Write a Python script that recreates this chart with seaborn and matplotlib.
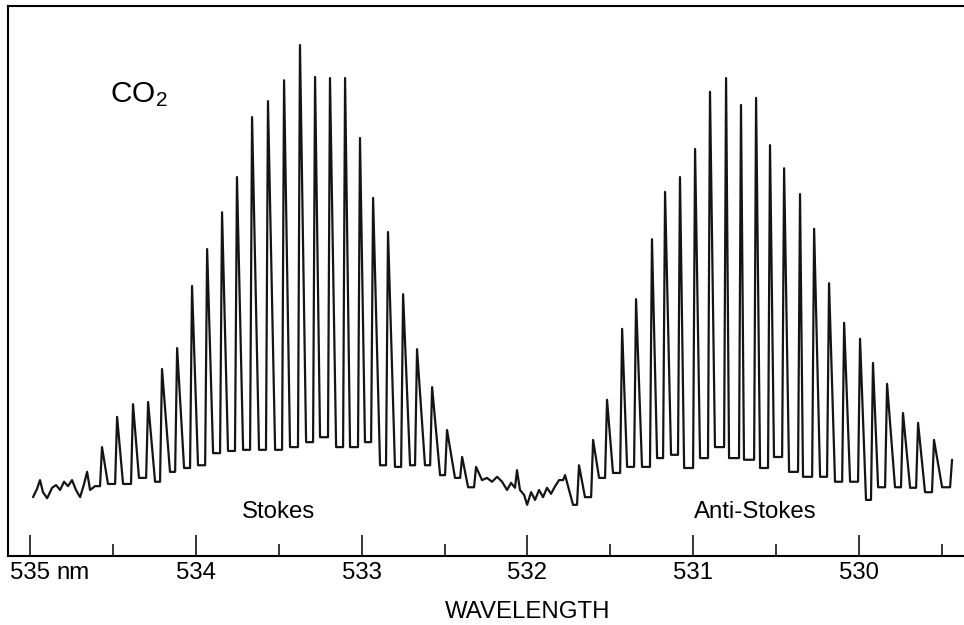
import numpy as np
import pandas as pd
import matplotlib
matplotlib.use('Agg')
import matplotlib.pyplot as plt
import seaborn as sns

# --- data (wavelength in nm, intensity in arb. units) ---
left_base_nm = [534.982, 534.958, 534.940, 534.922, 534.897, 534.867, 534.843, 534.819,
                534.795, 534.771, 534.747, 534.723, 534.698, 534.674, 534.656, 534.638, 534.608]
left_base_int = [10.7, 12.2, 13.8, 11.6, 10.5, 12.4, 12.9, 12.0,
                 13.5, 12.7, 13.8, 12.0, 10.7, 13.1, 15.3, 12.0, 12.7]

stokes_peak_nm = [534.566, 534.475, 534.379, 534.288, 534.204, 534.113, 534.023, 533.932,
                  533.842, 533.752, 533.661, 533.565, 533.468, 533.372, 533.281, 533.191,
                  533.100, 533.010, 532.931, 532.841, 532.750, 532.666, 532.575, 532.485,
                  532.394, 532.310]
stokes_peak_int = [19.8, 25.3, 27.6, 28.0, 34.0, 37.8, 49.1, 55.8,
                   62.5, 68.9, 79.8, 82.7, 86.5, 92.9, 87.1, 86.9,
                   86.9, 76.0, 65.1, 58.9, 47.6, 37.6, 30.7, 22.9,
                   18.0, 16.2]
stokes_trough_nm = [534.530, 534.439, 534.343, 534.246, 534.156, 534.071, 533.987, 533.896,
                    533.806, 533.715, 533.619, 533.522, 533.432, 533.335, 533.251, 533.154,
                    533.070, 532.980, 532.889, 532.799, 532.708, 532.618, 532.527, 532.437,
                    532.358, 532.274]
stokes_trough_int = [13.1, 13.1, 14.2, 13.5, 15.3, 16.0, 16.5, 18.7,
                     19.1, 19.3, 19.3, 19.3, 19.8, 20.7, 21.6, 19.8,
                     19.8, 20.7, 16.5, 16.2, 16.5, 16.5, 14.7, 14.2,
                     12.5, 13.8]

gap_base_nm = [532.244, 532.214, 532.183, 532.153, 532.123, 532.099, 532.075, 532.063,
               532.045, 532.020, 532.002, 531.978, 531.954, 531.930, 531.906, 531.882,
               531.858, 531.833, 531.809]
gap_base_int = [14.2, 13.5, 14.4, 13.5, 12.0, 13.3, 12.4, 15.6,
                12.0, 11.1, 9.3, 11.6, 10.2, 12.0, 10.7, 12.4,
                11.3, 12.7, 13.8]

anti_peak_nm = [531.773, 531.689, 531.604, 531.520, 531.429, 531.345, 531.249, 531.170,
                531.080, 530.989, 530.899, 530.802, 530.712, 530.621, 530.537, 530.452,
                530.356, 530.271, 530.181, 530.090, 529.994, 529.916, 529.831, 529.735,
                529.644, 529.548, 529.439]
anti_peak_int = [14.7, 16.5, 21.1, 28.4, 41.3, 46.7, 57.6, 66.2,
                 68.9, 74.0, 84.4, 86.9, 82.0, 83.3, 74.7, 70.5,
                 65.8, 59.5, 49.6, 42.4, 39.5, 35.1, 31.3, 26.0,
                 24.2, 21.1, 17.5]
anti_trough_nm = [531.725, 531.653, 531.568, 531.484, 531.399, 531.309, 531.218, 531.134,
                  531.055, 530.959, 530.869, 530.784, 530.694, 530.597, 530.513, 530.422,
                  530.338, 530.235, 530.145, 530.054, 529.958, 529.885, 529.783, 529.692,
                  529.602, 529.499]
anti_trough_int = [9.3, 10.7, 14.2, 15.1, 16.2, 16.2, 17.8, 18.4,
                   16.0, 17.8, 19.8, 17.8, 17.5, 16.0, 18.0, 15.3,
                   14.4, 14.4, 13.5, 13.5, 10.2, 12.5, 12.5, 12.4,
                   11.6, 12.5]

major_ticks = [535, 534, 533, 532, 531, 530]
major_labels = ['535', '534', '533', '532', '531', '530']
minor_ticks = [534.5, 533.5, 532.5, 531.5, 530.5, 529.5]

SPIKE_FOOT = 0.012  # nm, width of the rising edge of each line


def spike_train(peak_nm, peak_int, trough_nm, trough_int, start_level):
    """Trace each rotational line as a narrow spike: foot -> peak -> trough."""
    xs, ys = [], []
    low = start_level
    for i, (p, h) in enumerate(zip(peak_nm, peak_int)):
        xs += [p + SPIKE_FOOT, p]
        ys += [low, h]
        if i < len(trough_nm):
            xs.append(trough_nm[i])
            ys.append(trough_int[i])
            low = trough_int[i]
    return xs, ys


sx, sy = spike_train(stokes_peak_nm, stokes_peak_int, stokes_trough_nm,
                     stokes_trough_int, left_base_int[-1])
ax_, ay_ = spike_train(anti_peak_nm, anti_peak_int, anti_trough_nm,
                       anti_trough_int, gap_base_int[-1])

trace = pd.DataFrame({
    'wavelength': left_base_nm + sx + gap_base_nm + ax_,
    'intensity': left_base_int + sy + gap_base_int + ay_,
})

sns.set_theme(style='white')
plt.rcParams['font.family'] = ['Liberation Sans', 'DejaVu Sans']
plt.rcParams['text.color'] = 'black'
plt.rcParams['mathtext.fontset'] = 'custom'
plt.rcParams['mathtext.rm'] = 'Liberation Sans'
plt.rcParams['mathtext.it'] = 'Liberation Sans:italic'

fig = plt.figure(figsize=(9.64, 6.25), dpi=100)
ax = fig.add_axes([0.0083, 0.1104, 0.9917, 0.88])

sns.lineplot(data=trace, x='wavelength', y='intensity', sort=False, estimator=None,
             color='#141414', linewidth=1.6, ax=ax)

ax.set_xlim(535.133, 529.367)
ax.set_ylim(0, 100)

ax.set_xticks(major_ticks)
ax.set_xticklabels(major_labels)
ax.set_xticks(minor_ticks, minor=True)
ax.tick_params(axis='x', which='major', direction='in', length=15, width=1.1,
               pad=4.5, labelsize=17.3, colors='black', bottom=True)
ax.tick_params(axis='x', which='minor', direction='in', length=8.5, width=1.1,
               colors='black', bottom=True)
ax.set_yticks([])
ax.set_xlabel('')
ax.set_ylabel('')

for side in ['left', 'bottom', 'top']:
    ax.spines[side].set_color('black')
    ax.spines[side].set_linewidth(1.5)
ax.spines['right'].set_visible(False)

# unit after the first tick label
ax.annotate('nm', xy=(535, 0), xycoords=('data', 'axes fraction'),
            xytext=(19, -4.5), textcoords='offset points',
            ha='left', va='top', fontsize=17.3, color='black')

ax.text(533.504, 8.0, 'Stokes', ha='center', va='center', fontsize=17.3)
ax.text(530.624, 8.0, 'Anti-Stokes', ha='center', va='center', fontsize=17.3)

fig.text(0.1141, 0.837, r'CO$_2$', ha='left', va='baseline', fontsize=21.5)
fig.text(0.5472, 0.0208, 'WAVELENGTH', ha='center', va='center', fontsize=17.3)

fig.savefig('out.png', dpi=100)
